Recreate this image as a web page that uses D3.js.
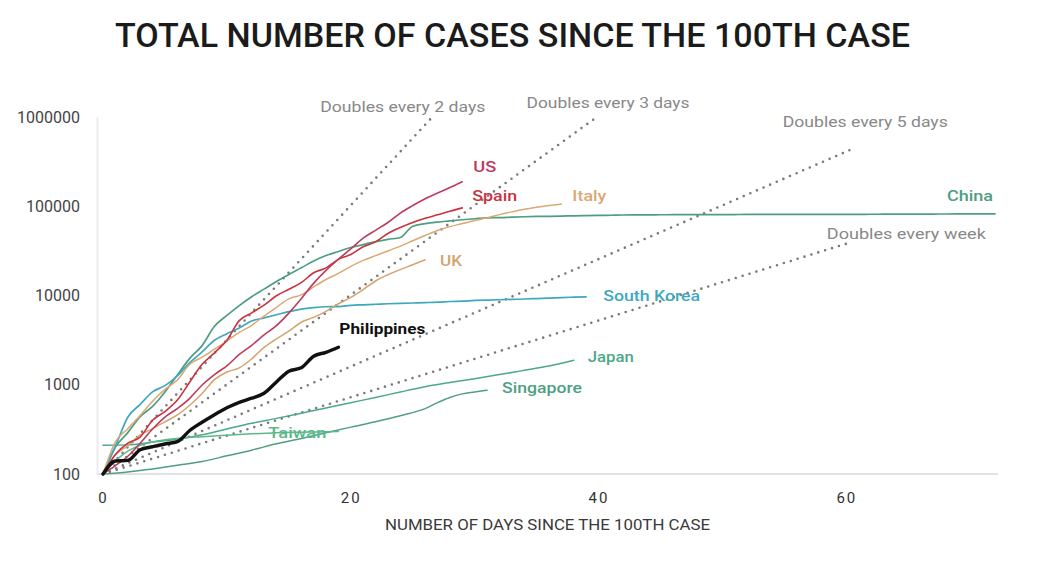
<!DOCTYPE html>
<html><head><meta charset="utf-8">
<script src="https://cdn.jsdelivr.net/npm/d3@7"></script>
<style>
html,body{margin:0;padding:0;background:#fff;}
svg{display:block;font-family:Roboto,"DejaVu Sans",sans-serif;}
</style></head>
<body>
<svg id="chart" width="1060" height="568"></svg>
<script>
// ---- data (cases by day since 100th case) ----
const usCases = [100,124,158,221,319,435,541,704,994,1301,1630,2183,2770,3613,4596,6344,9197,13677,19100,25489,33276,43847,53740,65778,83836,101657,121478,140886,161807,188172];
const spainCases = [100,165,222,259,400,500,673,1073,1695,2277,3146,5232,6391,7798,9942,11748,13910,17963,20410,25374,28768,35136,39885,49515,57786,65719,73235,80110,87956,95923];
const italyCases = [100,229,322,453,655,888,1128,1694,2036,2502,3089,3858,4636,5883,7375,9172,10149,12462,15113,17660,21157,24747,27980,31506,35713,41035,47021,53578,59138,63927,69176,74386,80589,86498,92472,97689,101739,105792];
const ukCases = [100,164,207,274,322,384,459,590,798,1140,1391,1543,1950,2626,3269,3983,5018,5683,6650,8077,9529,11658,14543,17089,19522,22141,25150];
const chinaCases = [100,200,291,440,571,830,1287,1975,2744,4515,5974,7711,9692,11791,14380,17205,20438,24324,28018,31161,34546,37198,40171,42638,44653,59804,63851,66492,68500,70548,72436,74185,74576,75465,76288,76936,77150,77658,78064,78497,78824,79251,79824,80026,80151,80271,80422,80573,80652,80699,80735,80757,80921,80932,80945,80977,81003,81033,81058,81102,81156,81250,81305,81435,81498,81591,81661,81782,81897,81999,82122,82198,82279];
const koreaCases = [100,204,433,602,833,977,1261,1766,2337,3150,3736,4335,5186,5621,6088,6593,7041,7314,7478,7513,7755,7869,7979,8086,8162,8236,8320,8413,8565,8652,8799,8897,8961,9037,9137,9241,9332,9478,9583,9661];
const philippinesCases = [100,140,142,187,202,217,230,307,380,462,552,636,707,803,1075,1418,1546,2084,2311,2633];
const japanDays = [0,2,4,6,8,10,12,14,16,18,20,22,24,26,28,30,32,34,36,38];
const japanCases = [210,212,228,245,275,320,370,420,480,550,630,720,830,950,1060,1170,1300,1450,1620,1880];
const singaporeDays = [0,2,4,6,8,10,12,14,16,18,20,22,24,26,27,28,29,30,31];
const singaporeCases = [100,105,114,125,138,160,185,218,250,290,335,385,450,540,630,720,790,830,870];
const taiwanDays = [0,1,2,3,4,6,8,10,12,14,16,18,19];
const taiwanCases = [100,140,180,210,228,250,262,272,282,290,294,297,300];

const doublingPeriods = [2,3,5,7];
const doublingEndDays = [26.5,40,60.6,60.2];
const doublingLabels = ["Doubles every 2 days","Doubles every 3 days","Doubles every 5 days","Doubles every week"];

const yTicks = [100,1000,10000,100000,1000000];
const xTicks = [0,20,40,60];

const title = "TOTAL NUMBER OF CASES SINCE THE 100TH CASE";
const xTitle = "NUMBER OF DAYS SINCE THE 100TH CASE";

// ---- scales ----
const svg = d3.select("#chart");
const x = d3.scaleLinear().domain([0,72]).range([103,995]);
const y = d3.scaleLog().domain([100,1000000]).range([474,117]);

const daily = arr => arr.map((v,i)=>({d:i,v:v}));
const sparse = (ds,vs) => ds.map((d,i)=>({d:d,v:vs[i]}));

const series = [
  {name:"China", pts:daily(chinaCases), color:"#4e9d82", w:1.7, lab:{dx:-2,dy:-18,anchor:"end",len:46}},
  {name:"South Korea", pts:daily(koreaCases), color:"#3fa8bf", w:1.7, lab:{dx:17,dy:-1,anchor:"start",len:97}},
  {name:"Japan", pts:sparse(japanDays,japanCases), color:"#4ca889", w:1.5, lab:{dx:14,dy:-3,anchor:"start",len:46}},
  {name:"Singapore", pts:sparse(singaporeDays,singaporeCases), color:"#4f9f83", w:1.5, lab:{dx:15,dy:-2,anchor:"start",len:80}},
  {name:"Taiwan", pts:sparse(taiwanDays,taiwanCases), color:"#5cb88a", w:1.5, lab:{dx:-12,dy:2,anchor:"end",len:58}},
  {name:"UK", pts:daily(ukCases), color:"#d3a46e", w:1.5, lab:{dx:15,dy:1,anchor:"start",len:22}},
  {name:"Italy", pts:daily(italyCases), color:"#dba872", w:1.5, lab:{dx:11,dy:-8,anchor:"start",len:34}},
  {name:"Spain", pts:daily(spainCases), color:"#c9333f", w:1.6, lab:{dx:10,dy:-12,anchor:"start",len:45}},
  {name:"US", pts:daily(usCases), color:"#c03a5c", w:1.6, lab:{dx:11,dy:-15,anchor:"start",len:23}},
  {name:"Philippines", pts:daily(philippinesCases), color:"#111111", w:3.4, lab:{dx:1,dy:-18,anchor:"start",len:86}}
];

// ---- axes ----
svg.append("line").attr("x1",97).attr("x2",998).attr("y1",y(100)).attr("y2",y(100))
  .attr("stroke","#e2e2e2").attr("stroke-width",2);

const yAxis = svg.append("g").attr("transform","translate(97,0)")
  .call(d3.axisLeft(y).tickValues(yTicks).tickFormat(d3.format("d")).tickSize(0).tickPadding(17));
yAxis.select(".domain").attr("stroke","#ececec").attr("stroke-width",2);
yAxis.selectAll("text").attr("font-size",16).attr("fill","#444").attr("font-family","Roboto, sans-serif");

const xAxis = svg.append("g").attr("transform",`translate(0,${y(100)})`)
  .call(d3.axisBottom(x).tickValues(xTicks).tickFormat(d3.format("d")).tickSize(0).tickPadding(18));
xAxis.select(".domain").remove();
xAxis.selectAll("text").attr("font-size",15).attr("fill","#333").attr("letter-spacing","2px").attr("font-family","Roboto, sans-serif");

// ---- doubling reference lines ----
doublingPeriods.forEach((p,i)=>{
  const end = doublingEndDays[i];
  const pts = [{d:0,v:100},{d:end,v:100*Math.pow(2,end/p)}];
  svg.append("path").datum(pts)
    .attr("d", d3.line().x(q=>x(q.d)).y(q=>y(q.v)))
    .attr("fill","none").attr("stroke","#7a7a7a").attr("stroke-width",2.6)
    .attr("stroke-linecap","round").attr("stroke-dasharray","0 7.2");
});
const dLabOff = [{dx:-111,dy:-6,len:165},{dx:-72,dy:-8,len:163},{dx:-71,dy:-21,len:165},{dx:-22,dy:-4,len:159}];
doublingPeriods.forEach((p,i)=>{
  const end = doublingEndDays[i];
  const ex = x(end), ey = y(100*Math.pow(2,end/p));
  svg.append("text").attr("x",ex+dLabOff[i].dx).attr("y",ey+dLabOff[i].dy)
    .attr("font-size",14).attr("font-weight",400).attr("fill","#888")
    .attr("textLength",dLabOff[i].len).attr("lengthAdjust","spacingAndGlyphs")
    .text(doublingLabels[i]);
});

// ---- country lines ----
const line = d3.line().x(q=>x(q.d)).y(q=>y(q.v)).curve(d3.curveMonotoneX);
series.forEach(s=>{
  svg.append("path").datum(s.pts).attr("d",line)
    .attr("fill","none").attr("stroke",s.color).attr("stroke-width",s.w)
    .attr("stroke-linejoin","round").attr("stroke-linecap","round");
});
series.forEach(s=>{
  const last = s.pts[s.pts.length-1];
  svg.append("text").attr("x",x(last.d)+s.lab.dx).attr("y",y(last.v)+s.lab.dy+5)
    .attr("text-anchor",s.lab.anchor)
    .attr("font-size",15).attr("font-weight",s.name==="Philippines"?700:500)
    .attr("fill",s.color)
    .attr("textLength",s.lab.len).attr("lengthAdjust","spacingAndGlyphs")
    .text(s.name);
});

// ---- titles ----
svg.append("text").attr("x",115).attr("y",47).attr("font-size",33).attr("font-weight",500)
  .attr("fill","#1b1b1b").attr("textLength",795).attr("lengthAdjust","spacingAndGlyphs").text(title);
svg.append("text").attr("x",385).attr("y",530).attr("font-size",15).attr("fill","#3a3a3a")
  .attr("textLength",325).attr("lengthAdjust","spacingAndGlyphs").text(xTitle);
</script>
</body></html>
